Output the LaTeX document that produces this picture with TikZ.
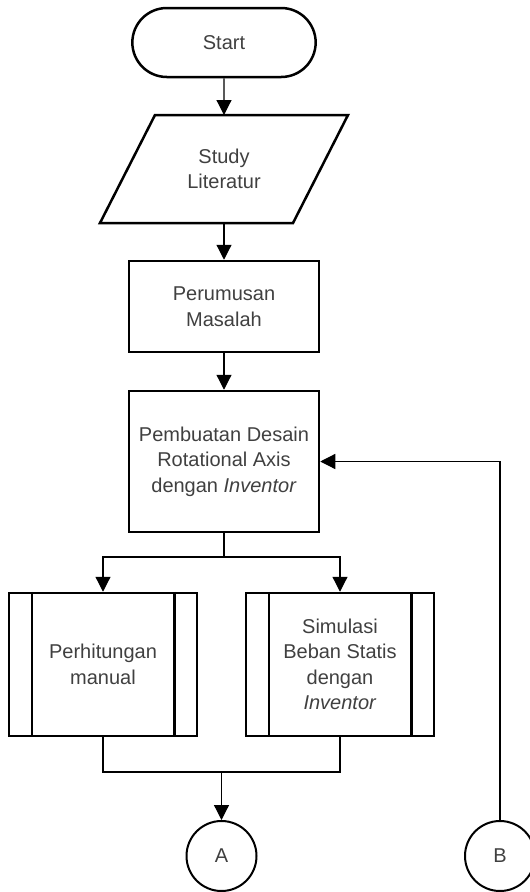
\documentclass[tikz,border=0pt]{standalone}
\usepackage{fontspec}
\setmainfont{Liberation Sans}
\usetikzlibrary{arrows.meta,shapes.misc}
\definecolor{txt}{HTML}{404040}
\newcommand\flowfont{\fontsize{20}{25.5}\selectfont}
\tikzset{
  shapeline/.style={draw=black, line width=2.5pt},
  label text/.style={text=txt, align=center, font=\flowfont},
  term/.style={shapeline, label text, rounded rectangle, minimum width=190pt, minimum height=69pt},
  procbox/.style={shapeline, label text, rectangle, minimum width=190pt},
  subproc/.style={shapeline, label text, rectangle, minimum width=188pt, minimum height=143pt},
  connector/.style={draw=black, line width=2pt, label text, circle, minimum size=70pt},
  conn/.style={line width=1.2pt, -{Triangle[length=15pt,width=15pt]}},
  link/.style={line width=1.2pt},
}
\begin{document}
\begin{tikzpicture}[x=1pt,y=-1pt]
\useasboundingbox (0,0) rectangle (530,892);

% main column
\node[term] (start) at (224,42.5) {Start};

% input/output step (parallelogram)
\node[label text, minimum height=108pt, inner sep=0pt, outer sep=0pt] (lit) at (224,169) {Study\\Literatur};
\draw[shapeline, line join=miter]
  ([xshift=-69pt]lit.north) -- ([xshift=124pt]lit.north) --
  ([xshift=69pt]lit.south) -- ([xshift=-124pt]lit.south) -- cycle;

\node[procbox, minimum height=91pt] (rumus) at (224,306.5) {Perumusan\\Masalah};
\node[procbox, minimum height=141pt] (desain) at (224,461.5) {Pembuatan Desain\\Rotational Axis\\dengan \textit{Inventor}};

% predefined processes
\node[subproc] (hitung) at (103,664.5) {Perhitungan\\manual};
\node[subproc] (simul) at (340,664.5) {Simulasi\\Beban Statis\\dengan\\\textit{Inventor}};
\foreach \n in {hitung,simul}{
  \draw[line width=2.5pt] ([xshift=24pt]\n.north west) -- ([xshift=24pt]\n.south west);
  \draw[line width=2.5pt] ([xshift=-24pt]\n.north east) -- ([xshift=-24pt]\n.south east);
}

% off-page connectors
\node[connector] (A) at (221.5,856) {A};
\node[connector] (B) at (500,856) {B};

% flow lines
\draw[conn] (start) -- (lit);
\draw[conn] (lit) -- (rumus);
\draw[conn] (rumus) -- (desain);

\coordinate (split) at (224,557);
\draw[link] (desain) -- (split);
\draw[conn] (split) -| (hitung);
\draw[conn] (split) -| (simul);

\coordinate (merge) at (221.5,772);
\draw[link] (hitung) |- (merge);
\draw[link] (simul) |- (merge);
\draw[conn] (merge) -- (A);

\draw[conn] (B) |- (desain.east);
\end{tikzpicture}
\end{document}
